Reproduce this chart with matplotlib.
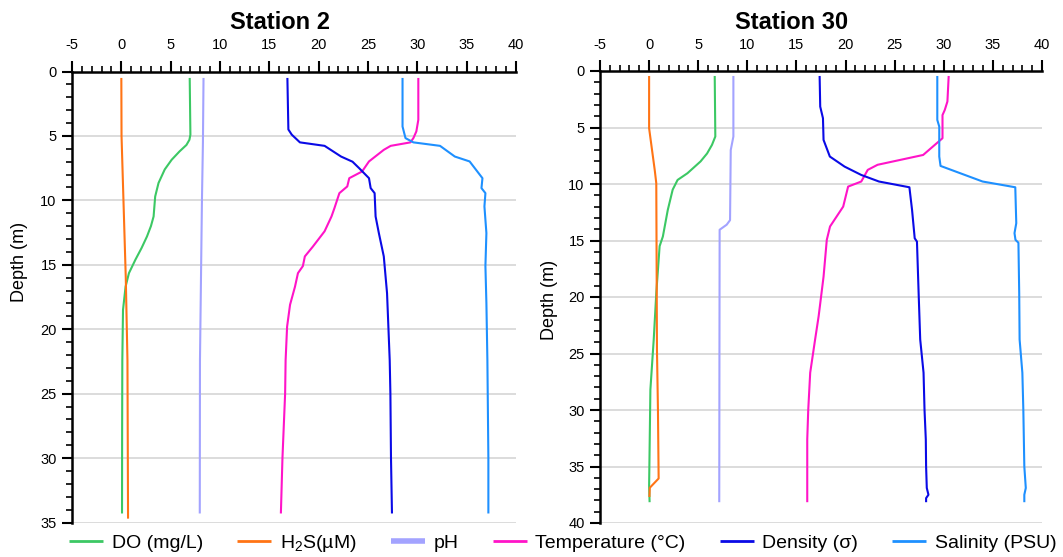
import matplotlib
matplotlib.use('Agg')
import matplotlib.pyplot as plt
from matplotlib.ticker import MultipleLocator

plt.rcParams['font.family'] = ['Liberation Sans', 'DejaVu Sans']
plt.rcParams['mathtext.fontset'] = 'custom'
plt.rcParams['mathtext.rm'] = 'Liberation Sans'
plt.rcParams['axes.unicode_minus'] = False

# ---- Station 2 profiles (depth in m, value) ----
s2_do_depth = [0.5, 4.9, 5.3, 5.7, 6.2, 6.85, 7.6, 8.65, 9.7, 11.25, 12.0, 12.8, 13.7, 14.6, 15.65, 16.7, 18.5, 22.4, 28.0, 34.3]
s2_do = [6.93, 7.0, 6.9, 6.6, 5.9, 5.1, 4.4, 3.77, 3.43, 3.27, 3.0, 2.6, 2.05, 1.43, 0.77, 0.43, 0.17, 0.1, 0.08, 0.07]

s2_h2s_depth = [0.5, 5.0, 16.0, 22.4, 34.7]
s2_h2s = [0.0, 0.02, 0.45, 0.62, 0.68]

s2_ph_depth = [0.5, 5.5, 10.0, 22.4, 34.3]
s2_ph = [8.33, 8.27, 8.17, 7.97, 7.95]

s2_temp_depth = [0.5, 3.75, 4.65, 5.17, 5.5, 5.77, 6.08, 6.98, 7.76, 8.28, 8.92, 9.44, 10.6, 11.25,
                 12.4, 13.6, 14.35, 15.1, 15.65, 16.7, 18.1, 19.8, 22.4, 25.0, 30.0, 34.3]
s2_temp = [30.1, 30.1, 29.9, 29.6, 29.3, 27.3, 26.6, 25.1, 24.4, 23.1, 22.9, 22.1, 21.6, 21.3,
           20.6, 19.4, 18.6, 18.4, 17.9, 17.6, 17.1, 16.8, 16.65, 16.6, 16.33, 16.17]

s2_dens_depth = [0.5, 4.5, 4.9, 5.5, 5.77, 6.6, 7.0, 7.5, 8.28, 9.05, 9.44, 11.25, 12.54, 14.35,
                 17.2, 22.4, 25.0, 30.0, 34.3]
s2_dens = [16.83, 16.93, 17.27, 18.1, 20.6, 22.27, 23.43, 24.1, 25.1, 25.27, 25.67, 25.77, 26.1, 26.6,
           26.93, 27.2, 27.27, 27.33, 27.43]

s2_sal_depth = [0.5, 4.27, 5.17, 5.5, 5.77, 6.6, 6.98, 8.28, 9.05, 9.44, 10.47, 12.54, 15.1, 17.97,
                22.4, 30.0, 34.3]
s2_sal = [28.5, 28.5, 28.8, 29.6, 32.3, 33.8, 35.3, 36.6, 36.5, 36.9, 36.8, 37.0, 36.9, 37.0,
          37.1, 37.2, 37.2]

# ---- Station 30 profiles ----
s30_do_depth = [0.44, 5.8, 6.54, 7.3, 8.0, 9.05, 9.64, 10.5, 12.3, 14.65, 15.5, 19.66, 23.76, 28.2, 36.7, 38.16]
s30_do = [6.68, 6.74, 6.4, 5.9, 5.24, 3.9, 2.9, 2.4, 1.9, 1.4, 1.07, 0.73, 0.47, 0.13, 0.0, 0.05]

s30_h2s_depth = [0.44, 5.07, 8.75, 9.93, 24.7, 30.0, 36.06, 36.88, 37.7]
s30_h2s = [0.0, 0.0, 0.57, 0.73, 0.8, 0.9, 0.97, 0.07, 0.03]

s30_ph_depth = [0.44, 5.8, 7.0, 13.2, 13.6, 14.05, 25.5, 38.16]
s30_ph = [8.58, 8.58, 8.31, 8.24, 7.9, 7.18, 7.16, 7.14]

s30_temp_depth = [0.44, 2.7, 3.45, 3.9, 5.95, 6.1, 7.43, 8.3, 8.75, 9.78, 10.23, 12.0, 13.76, 14.94,
                  18.2, 21.7, 23.76, 26.7, 30.0, 32.6, 38.16]
s30_temp = [30.5, 30.37, 30.1, 29.87, 29.87, 29.67, 27.9, 23.26, 22.26, 21.6, 20.26, 19.76, 18.42, 18.09,
            17.76, 17.26, 16.9, 16.4, 16.2, 16.1, 16.1]

s30_dens_depth = [0.44, 3.15, 4.18, 6.1, 7.57, 8.46, 9.2, 9.78, 10.29, 12.29, 14.8, 15.1, 19.66, 23.76,
                  26.7, 30.0, 32.6, 35.0, 36.9, 37.5, 37.8, 38.16]
s30_dens = [17.36, 17.42, 17.7, 17.76, 18.4, 19.9, 21.6, 23.4, 26.5, 26.77, 27.04, 27.27, 27.44, 27.6,
            27.94, 28.04, 28.17, 28.2, 28.27, 28.44, 28.2, 28.2]

s30_sal_depth = [0.44, 4.33, 4.92, 7.57, 8.4, 9.78, 10.29, 13.47, 14.35, 14.94, 15.2, 19.66, 23.76, 26.7,
                 30.0, 35.0, 36.9, 37.5, 37.8, 38.16]
s30_sal = [29.34, 29.34, 29.54, 29.54, 29.67, 33.95, 37.28, 37.38, 37.2, 37.3, 37.6, 37.68, 37.72, 38.0,
           38.1, 38.2, 38.35, 38.2, 38.2, 38.2]

labels = ['DO (mg/L)', r'H$_\mathregular{2}$S(µM)', 'pH', 'Temperature (°C)', 'Density (σ)', 'Salinity (PSU)']
colors = ['#3cc864', '#ff7415', '#a3a3ff', '#ff14c8', '#0a0ae6', '#1e90ff']

station2 = [(s2_do, s2_do_depth), (s2_h2s, s2_h2s_depth), (s2_ph, s2_ph_depth),
            (s2_temp, s2_temp_depth), (s2_dens, s2_dens_depth), (s2_sal, s2_sal_depth)]
station30 = [(s30_do, s30_do_depth), (s30_h2s, s30_h2s_depth), (s30_ph, s30_ph_depth),
             (s30_temp, s30_temp_depth), (s30_dens, s30_dens_depth), (s30_sal, s30_sal_depth)]

W, H = 1063, 557
fig = plt.figure(figsize=(W / 100, H / 100), dpi=100)

ax1 = fig.add_axes([72 / W, 1 - 522.5 / H, 444 / W, 451 / H])
ax2 = fig.add_axes([600 / W, 1 - 523 / H, 442 / W, 452 / H])

for ax, data, ymax in [(ax1, station2, 35), (ax2, station30, 40)]:
    for (vals, depth), lab, col in zip(data, labels, colors):
        ax.plot(vals, depth, color=col, lw=1.5, label=lab, solid_capstyle='butt')

    ax.set_xlim(-5, 40)
    ax.set_ylim(ymax, 0)
    ax.xaxis.tick_top()
    ax.xaxis.set_major_locator(MultipleLocator(5))
    ax.xaxis.set_minor_locator(MultipleLocator(1))
    ax.yaxis.set_major_locator(MultipleLocator(5))
    ax.yaxis.set_minor_locator(MultipleLocator(1))

    for side in ['right', 'bottom']:
        ax.spines[side].set_visible(False)
    for side in ['top', 'left']:
        ax.spines[side].set_linewidth(1.8)

    ax.tick_params(axis='x', which='major', direction='out', length=8, width=1.5, pad=6, labelsize=10.5)
    ax.tick_params(axis='x', which='minor', direction='out', length=4.5, width=1.2)
    ax.tick_params(axis='y', which='major', direction='out', length=7, width=1.5, pad=4, labelsize=10.5)
    ax.tick_params(axis='y', which='minor', direction='out', length=4, width=1.2)

    ax.yaxis.grid(True, which='major', color='#d9d9d9', lw=1.3)
    ax.set_axisbelow(True)

# titles and axis labels
fig.text(280 / W, 1 - 29 / H, 'Station 2', ha='center', va='baseline', fontsize=17, fontweight='bold')
fig.text(792 / W, 1 - 29 / H, 'Station 30', ha='center', va='baseline', fontsize=17, fontweight='bold')
fig.text(20 / W, 1 - 262 / H, 'Depth (m)', rotation=90, ha='center', va='center', fontsize=13)
fig.text(549 / W, 1 - 300 / H, 'Depth (m)', rotation=90, ha='center', va='center', fontsize=13)

# legend along the bottom
handles, labs = ax1.get_legend_handles_labels()
leg = fig.legend(handles, labs, loc='center', bbox_to_anchor=(563 / W, 1 - 543 / H), ncol=6,
                 frameon=False, fontsize=14, handlelength=1.75, handletextpad=0.45,
                 columnspacing=1.75)
for line in leg.get_lines():
    line.set_linewidth(2)
leg.get_lines()[2].set_linewidth(4)

fig.savefig('out.png', dpi=100)
